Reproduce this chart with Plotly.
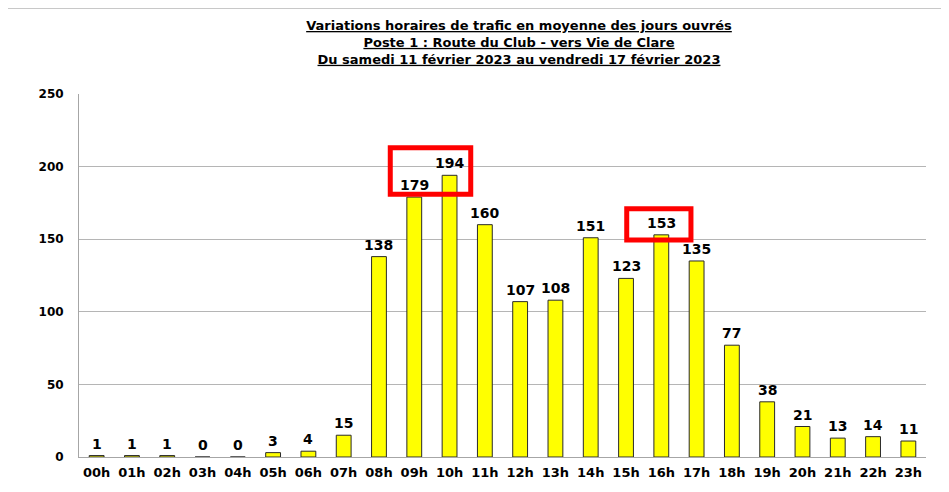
import plotly.graph_objects as go

hours = ["00h", "01h", "02h", "03h", "04h", "05h", "06h", "07h", "08h", "09h", "10h", "11h",
         "12h", "13h", "14h", "15h", "16h", "17h", "18h", "19h", "20h", "21h", "22h", "23h"]
traffic = [1, 1, 1, 0, 0, 3, 4, 15, 138, 179, 194, 160, 107, 108, 151, 123, 153, 135, 77, 38, 21, 13, 14, 11]
y_ticks = [0, 50, 100, 150, 200, 250]

title_lines = [
    "Variations horaires de trafic en moyenne des jours ouvrés",
    "Poste 1 : Route du Club - vers Vie de Clare",
    "Du samedi 11 février 2023 au vendredi 17 février 2023",
]

FONT = "DejaVu Sans"

fig = go.Figure()
fig.add_trace(go.Bar(
    x=list(range(len(hours))),
    y=traffic,
    marker=dict(color="#FFFF00", line=dict(color="#2a2a2a", width=1)),
    width=0.42,
    hoverinfo="x+y",
))

# value labels above bars
for i, v in enumerate(traffic):
    fig.add_annotation(x=i, y=v, xref="x", yref="y", text="<b>%d</b>" % v,
                       showarrow=False, yanchor="bottom", yshift=2,
                       font=dict(family=FONT, size=14, color="black"))

# red highlight boxes (in data coordinates)
for x0, x1, y0, y1 in [(8.32, 10.6, 181, 213), (15.02, 16.84, 149.5, 171)]:
    fig.add_shape(type="rect", xref="x", yref="y", x0=x0, x1=x1, y0=y0, y1=y1,
                  line=dict(color="#FF0000", width=5), fillcolor="rgba(0,0,0,0)", layer="above")

# outer frame lines
fig.add_shape(type="line", xref="paper", yref="paper", x0=-0.085, x1=1.1, y0=1.237, y1=1.237,
              line=dict(color="#8a8a8a", width=1))
fig.add_shape(type="line", xref="paper", yref="paper", x0=-0.085, x1=-0.085, y0=1.237, y1=-0.2,
              line=dict(color="#8a8a8a", width=1))

fig.update_layout(
    width=949, height=492,
    margin=dict(l=71, r=31, t=86, b=43),
    paper_bgcolor="white", plot_bgcolor="white",
    showlegend=False,
    title=dict(
        text="<br>".join("<b><u>%s</u></b>" % t for t in title_lines),
        x=(519 - 79) / 847, xref="paper", xanchor="center",
        y=1 - 22 / 492, yref="container", yanchor="top",
        font=dict(family=FONT, size=13, color="black"),
    ),
    xaxis=dict(
        tickmode="array", tickvals=list(range(len(hours))), ticktext=hours,
        range=[-0.5, len(hours) - 0.5],
        showgrid=False, showline=True, linecolor="#a6a6a6", linewidth=1,
        tickfont=dict(family=FONT, size=13, color="black", weight="bold"),
        ticks="", ticklabelstandoff=3, automargin=False,
    ),
    yaxis=dict(
        range=[0, 250], tickvals=y_ticks,
        showgrid=True, gridcolor="#b5b5b5", gridwidth=1,
        showline=True, linecolor="#a6a6a6", linewidth=1,
        zeroline=False,
        tickfont=dict(family=FONT, size=12, color="black", weight="bold"),
        ticks="", ticklabelstandoff=12, automargin=False,
    ),
)

fig.write_html("out.html")
